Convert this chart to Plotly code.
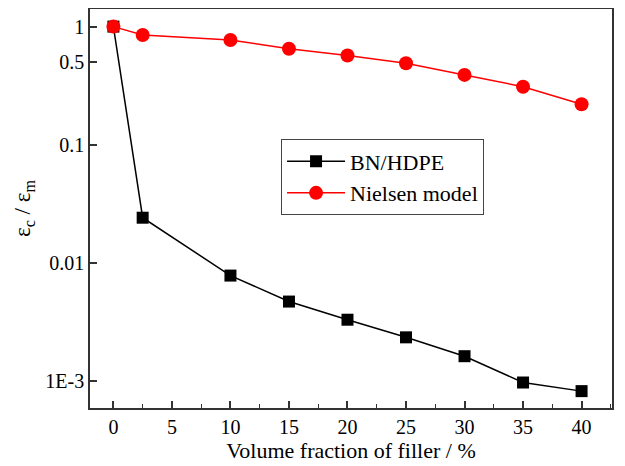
import plotly.graph_objects as go

x_bn = [0, 2.5, 10, 15, 20, 25, 30, 35, 40]
y_bn = [1.0, 0.0241, 0.0078, 0.0047, 0.0033, 0.00234, 0.00162, 0.00097, 0.00082]
x_ni = [0, 2.5, 10, 15, 20, 25, 30, 35, 40]
y_ni = [1.0, 0.85, 0.77, 0.65, 0.57, 0.49, 0.39, 0.31, 0.22]

ytick_vals = [0.001, 0.01, 0.1, 0.5, 1]
ytick_text = ["1E-3", "0.01", "0.1", "0.5", "1"]
xtick_vals = [0, 5, 10, 15, 20, 25, 30, 35, 40]
xminor_vals = [2.5, 7.5, 12.5, 17.5, 22.5, 27.5, 32.5, 37.5, 42.5]

font_family = "Liberation Serif, Times New Roman, serif"

fig = go.Figure()
fig.add_trace(go.Scatter(
    x=x_bn, y=y_bn, mode="lines+markers", name="BN/HDPE",
    line=dict(color="black", width=1.5),
    marker=dict(symbol="square", size=12, color="black"),
))
fig.add_trace(go.Scatter(
    x=x_ni, y=y_ni, mode="lines+markers", name="Nielsen model",
    line=dict(color="#ff0000", width=1.5),
    marker=dict(symbol="circle", size=14, color="#ff0000"),
))

# page body has an 8px margin, so the figure is sized to fill the rest of the window
fig.update_layout(
    width=617, height=458,
    margin=dict(l=82, r=13, t=1, b=58),
    paper_bgcolor="white", plot_bgcolor="white",
    font=dict(family=font_family, size=20, color="black"),
    showlegend=True,
    legend=dict(
        x=0.366, y=0.673, xanchor="left", yanchor="top",
        bordercolor="#444", borderwidth=1, bgcolor="white",
        font=dict(size=22, family=font_family),
        itemwidth=58, tracegroupgap=0,
    ),
    xaxis=dict(
        automargin=False,
        range=[-2, 42.6], tickvals=xtick_vals,
        ticks="inside", ticklen=7, tickwidth=1.5, tickcolor="#333",
        minor=dict(tickvals=xminor_vals,
                   ticks="inside", ticklen=4, tickwidth=1.2, tickcolor="#333"),
        showline=True, linecolor="#333", linewidth=1.5, mirror=True,
        showgrid=False, zeroline=False,
        title=dict(text="Volume fraction of filler / %", font=dict(size=22), standoff=4),
        tickfont=dict(size=20),
    ),
    yaxis=dict(
        automargin=False,
        type="log", range=[-3.229, 0.149],
        tickvals=ytick_vals, ticktext=ytick_text,
        ticks="inside", ticklen=7, tickwidth=1.5, tickcolor="#333",
        showline=True, linecolor="#333", linewidth=1.5, mirror=True,
        showgrid=False, zeroline=False,
        title=dict(text="ε<sub>c</sub> / ε<sub>m</sub>", font=dict(size=23), standoff=8),
        tickfont=dict(size=20),
    ),
)

fig.write_html("out.html")
